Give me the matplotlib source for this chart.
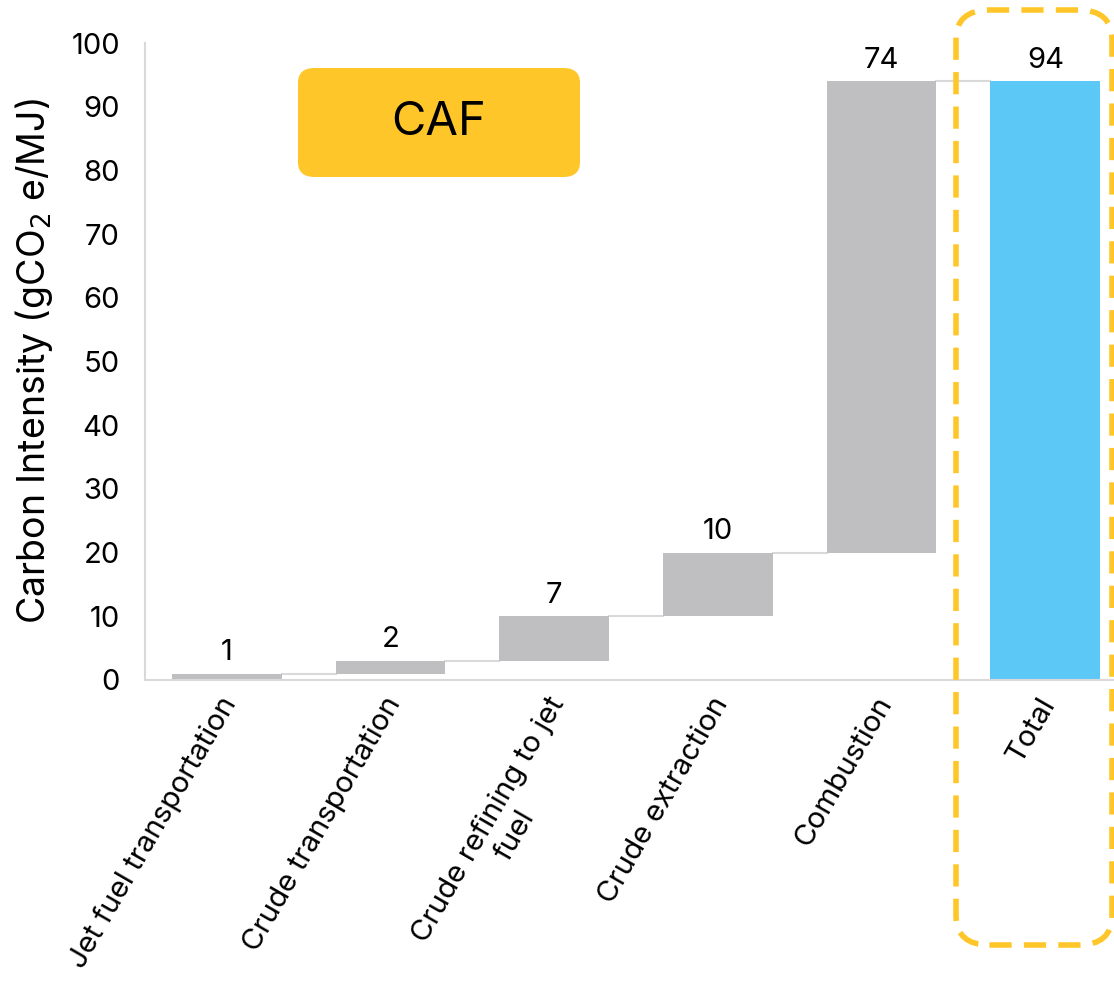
import matplotlib
matplotlib.use("Agg")
import matplotlib.pyplot as plt
from matplotlib.patches import FancyBboxPatch
import matplotlib.transforms as mtransforms
import numpy as np

plt.rcParams['font.family'] = ['Inter', 'DejaVu Sans']

# data
categories = ["Jet fuel transportation", "Crude transportation",
              "Crude refining to jet\nfuel", "Crude extraction",
              "Combustion", "Total"]
steps = [1, 2, 7, 10, 74]
total = 94
y_ticks = [0, 10, 20, 30, 40, 50, 60, 70, 80, 90, 100]

W, H = 1114, 982
fig = plt.figure(figsize=(W / 100, H / 100), dpi=100)
ax = fig.add_axes([145 / W, 1 - 680 / H, (1114 - 145) / W, (680 - 43) / H])

grey = "#BFBFC1"
blue = "#5BC8F5"
width = 0.67

bottoms = np.concatenate([[0], np.cumsum(steps)[:-1]])
x = np.arange(len(categories))
ax.bar(x[:-1], steps, bottom=bottoms, width=width, color=grey, zorder=2)
ax.bar(x[-1], total, width=width, color=blue, zorder=2)

# connectors
tops = np.cumsum(steps)
for i, t in enumerate(tops):
    ax.plot([x[i] + width / 2, x[i + 1] - width / 2], [t, t],
            color="#D9D9D9", lw=1.5, zorder=1)

# value labels
for i, v in enumerate(steps):
    ax.text(x[i], tops[i] + 1.2, str(v), ha="center", va="bottom", fontsize=21)
ax.text(x[-1], total + 1.2, str(total), ha="center", va="bottom", fontsize=21)

ax.set_xlim(-0.5, 5.42)
ax.set_ylim(0, 100)
ax.set_yticks(y_ticks)
ax.tick_params(axis="y", length=0, labelsize=21, pad=18)
ax.tick_params(axis="x", length=0, labelsize=21.3, pad=9)
ax.set_xticks(x)
ax.set_xticklabels(categories, rotation=60, ha="right", rotation_mode="anchor",
                   multialignment="center")
shift = mtransforms.ScaledTranslation(-8 / 100, 0, fig.dpi_scale_trans)
for lbl in ax.get_xticklabels():
    lbl.set_transform(lbl.get_transform() + shift)
for s in ["top", "right"]:
    ax.spines[s].set_visible(False)
for s in ["left", "bottom"]:
    ax.spines[s].set_color("#D9D9D9")
    ax.spines[s].set_linewidth(1.5)

ax.set_ylabel("Carbon Intensity (gCO$_2$ e/MJ)", fontsize=27, labelpad=12)

# CAF tag
tag = FancyBboxPatch((298 / W, 1 - 177 / H), (580 - 298) / W, (177 - 68) / H,
                     boxstyle="round,pad=0,rounding_size=0.015",
                     transform=fig.transFigure, facecolor="#FFC629",
                     edgecolor="none")
fig.patches.append(tag)
fig.text(439 / W, 1 - 123 / H, "CAF", ha="center", va="center", fontsize=34)

# dashed box around total
box = FancyBboxPatch((956 / W, 1 - 945 / H), (1112 - 956) / W, (945 - 10) / H,
                     boxstyle="round,pad=0,rounding_size=0.03",
                     transform=fig.transFigure, facecolor="none",
                     edgecolor="#FFC629", lw=4, linestyle=(0, (4, 2.2)),
                     zorder=5)
fig.patches.append(box)

fig.savefig("out.png", dpi=100)
